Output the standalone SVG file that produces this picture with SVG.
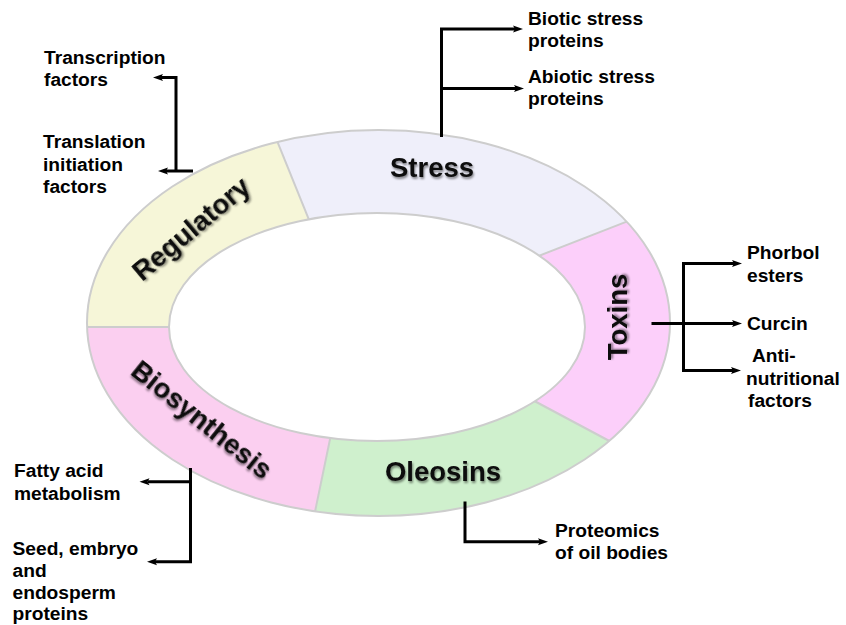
<svg xmlns="http://www.w3.org/2000/svg" width="846" height="625" viewBox="0 0 846 625">
<defs>
<style>
.lbl{font-family:"Liberation Sans",Arial,sans-serif;font-weight:bold;font-size:19.2px;fill:#000}
.seg{font-family:"Liberation Sans",Arial,sans-serif;font-weight:bold;font-size:27.5px;fill:#111;filter:url(#sh)}
.con{fill:none;stroke:#000;stroke-width:3;stroke-linejoin:miter;marker-end:url(#ah)}
.bd{stroke:#cdcdcd;stroke-width:2;fill:none}
</style>
<filter id="sh" x="-10%" y="-30%" width="130%" height="170%">
<feDropShadow dx="1" dy="2" stdDeviation="1.3" flood-color="#000" flood-opacity="0.45"/>
</filter>
<marker id="ah" markerUnits="userSpaceOnUse" markerWidth="11" markerHeight="8" refX="2" refY="4" orient="auto">
<path d="M0,0.5 L10,4 L0,7.5 L2,4 Z" fill="#000"/>
</marker>
<clipPath id="ring">
<path clip-rule="evenodd" d="M87,323 A291.5,193 0 1,0 670,323 A291.5,193 0 1,0 87,323 Z M169,327 A208,114 0 1,0 585,327 A208,114 0 1,0 169,327 Z"/>
</clipPath>
</defs>

<g id="ring-segments" clip-path="url(#ring)">
<polygon id="seg-regulatory" points="377,327 180,327 60,327 60,74 250,74 320,247" fill="#F6F6D8"/>
<polygon id="seg-stress" points="377,327 320,247 250,74 720,74 700,193 500,271" fill="#EFEFFA"/>
<polygon id="seg-toxins" points="377,327 500,271 700,193 720,190 720,470 660,468 510,388" fill="#FCCFFA"/>
<polygon id="seg-oleosins" points="377,327 510,388 660,468 660,560 305,560 334,420" fill="#CFF0CD"/>
<polygon id="seg-biosynthesis" points="377,327 334,420 305,560 60,560 60,327 180,327" fill="#FBCFF0"/>
<g class="bd">
<line x1="320" y1="247" x2="250" y2="74"/>
<line x1="500" y1="271" x2="700" y2="193"/>
<line x1="510" y1="388" x2="660" y2="468"/>
<line x1="334" y1="420" x2="305" y2="560"/>
<line x1="180" y1="327" x2="60" y2="327"/>
</g>
</g>
<ellipse class="bd" cx="378.5" cy="323" rx="291.5" ry="193"/>
<ellipse class="bd" cx="377" cy="327" rx="208" ry="114"/>

<g id="label-stress"><text class="seg" x="432" y="177" text-anchor="middle">Stress</text></g>
<g id="label-oleosins"><text class="seg" x="443" y="481" text-anchor="middle">Oleosins</text></g>
<g id="label-toxins"><text class="seg" text-anchor="middle" transform="translate(627,317) rotate(-90)">Toxins</text></g>
<g id="label-regulatory"><text class="seg" text-anchor="middle" transform="translate(197,236) rotate(-40)">Regulatory</text></g>
<g id="label-biosynthesis"><text class="seg" text-anchor="middle" transform="translate(196,427) rotate(38.7)">Biosynthesis</text></g>

<g id="connectors">
<path class="con" d="M176,171 V77.5 H161"/>
<path class="con" d="M193,171 H166"/>
<path class="con" d="M441.5,137 V29 H515"/>
<path class="con" d="M441.5,88.5 H516"/>
<path class="con" d="M651.5,323.5 H734"/>
<path class="con" d="M683.5,323.5 V263.5 H734"/>
<path class="con" d="M683.5,323.5 V370.5 H733"/>
<path class="con" d="M190.5,468 V561.7 H155"/>
<path class="con" d="M190.5,481.7 H147.5"/>
<path class="con" d="M465,501.5 V541.7 H540"/>
</g>

<g id="node-transcription"><text class="lbl" x="44" y="64">Transcription</text><text class="lbl" x="44" y="86">factors</text></g>
<g id="node-translation"><text class="lbl" x="43" y="148">Translation</text><text class="lbl" x="43" y="170.5">initiation</text><text class="lbl" x="43" y="193">factors</text></g>
<g id="node-biotic"><text class="lbl" x="528" y="25">Biotic stress</text><text class="lbl" x="528" y="46.5">proteins</text></g>
<g id="node-abiotic"><text class="lbl" x="528" y="83">Abiotic stress</text><text class="lbl" x="528" y="104.5">proteins</text></g>
<g id="node-phorbol"><text class="lbl" x="747" y="258.5">Phorbol</text><text class="lbl" x="747" y="281.5">esters</text></g>
<g id="node-curcin"><text class="lbl" x="747" y="330">Curcin</text></g>
<g id="node-antinutritional"><text class="lbl" x="752" y="362">Anti-</text><text class="lbl" x="746" y="385">nutritional</text><text class="lbl" x="748" y="407">factors</text></g>
<g id="node-fatty"><text class="lbl" x="14" y="477">Fatty acid</text><text class="lbl" x="14" y="500">metabolism</text></g>
<g id="node-seed"><text class="lbl" x="12.5" y="555">Seed, embryo</text><text class="lbl" x="12.5" y="577">and</text><text class="lbl" x="12.5" y="598.5">endosperm</text><text class="lbl" x="12.5" y="620">proteins</text></g>
<g id="node-proteomics"><text class="lbl" x="555" y="537">Proteomics</text><text class="lbl" x="555" y="559">of oil bodies</text></g>
</svg>
